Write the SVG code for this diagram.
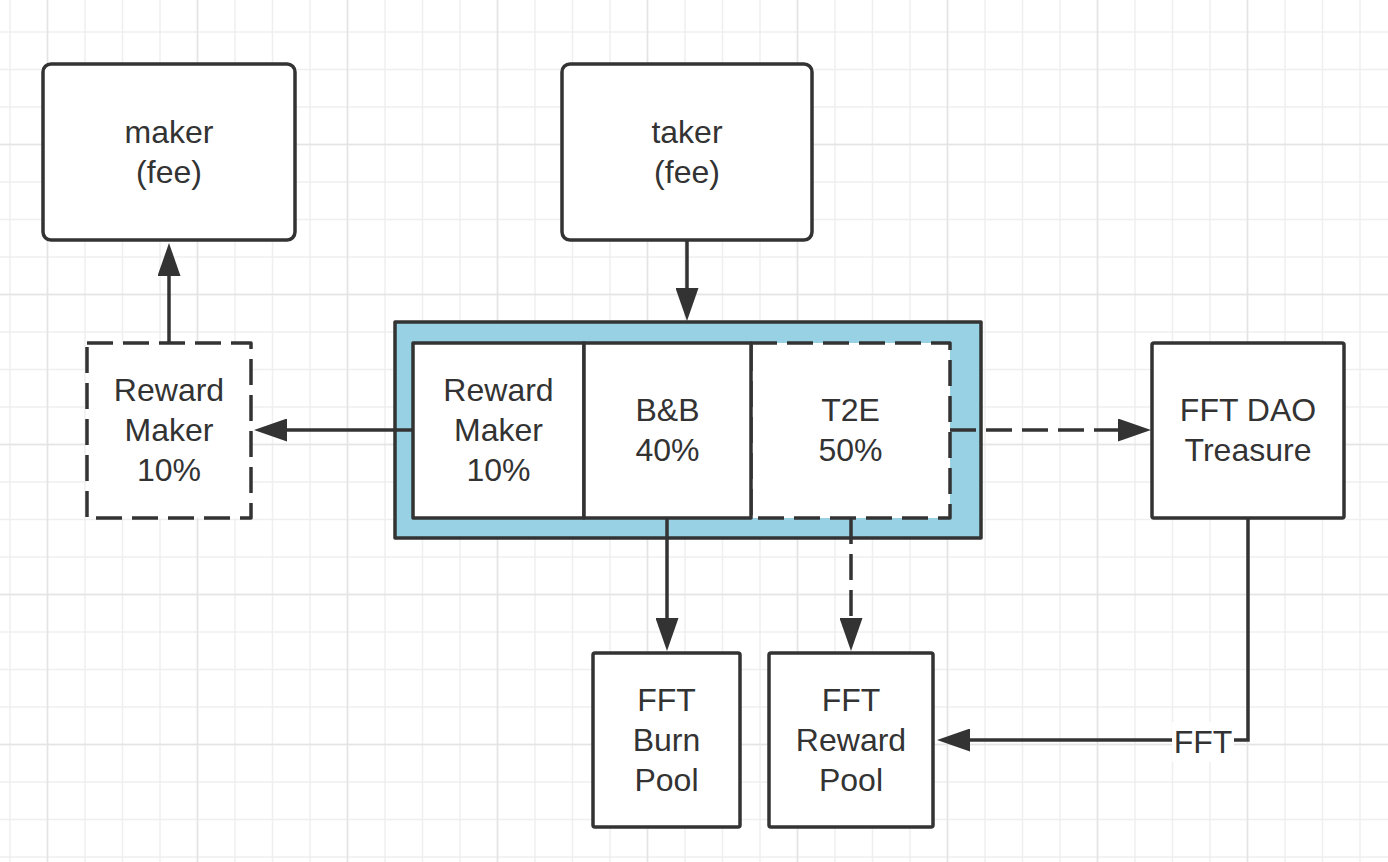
<svg xmlns="http://www.w3.org/2000/svg" width="1388" height="862" viewBox="0 0 1388 862">
<style>
.bg{fill:#ffffff}
.gmin{stroke:#efefef;stroke-width:1.5;fill:none}
.gmaj{stroke:#e4e4e4;stroke-width:1.5;fill:none}
.box{fill:#ffffff;stroke:#333333;stroke-width:3.5;stroke-linejoin:round}
.dash{stroke-dasharray:26 10}
.cont{fill:#97d1e3;stroke:#333333;stroke-width:3.5;stroke-linejoin:round}
.ln{fill:none;stroke:#333333;stroke-width:3.5}
.t{font-family:"Liberation Sans",Arial,Helvetica,sans-serif;font-size:32px;fill:#333333;text-anchor:middle}
</style>
<defs>
<marker id="arr" viewBox="0 0 33 23" refX="0" refY="11.5" markerWidth="33" markerHeight="23" markerUnits="userSpaceOnUse" orient="auto">
<path d="M0,0 L33,11.5 L0,23 Z" fill="#333333" stroke="none"/>
</marker>
</defs>
<rect class="bg" x="0" y="0" width="1388" height="862"/>
<g id="grid">
<path class="gmin" d="M10,0V862M47.5,0V862M85,0V862M122.5,0V862M160,0V862M197.5,0V862M235,0V862M272.5,0V862M310,0V862M347.5,0V862M385,0V862M422.5,0V862M460,0V862M497.5,0V862M535,0V862M572.5,0V862M610,0V862M647.5,0V862M685,0V862M722.5,0V862M760,0V862M797.5,0V862M835,0V862M872.5,0V862M910,0V862M947.5,0V862M985,0V862M1022.5,0V862M1060,0V862M1097.5,0V862M1135,0V862M1172.5,0V862M1210,0V862M1247.5,0V862M1285,0V862M1322.5,0V862M1360,0V862M0,32H1388M0,69.5H1388M0,107H1388M0,144.5H1388M0,182H1388M0,219.5H1388M0,257H1388M0,294.5H1388M0,332H1388M0,369.5H1388M0,407H1388M0,444.5H1388M0,482H1388M0,519.5H1388M0,557H1388M0,594.5H1388M0,632H1388M0,669.5H1388M0,707H1388M0,744.5H1388M0,782H1388M0,819.5H1388M0,857H1388"/>
<path class="gmaj" d="M47.5,0V862M197.5,0V862M347.5,0V862M497.5,0V862M647.5,0V862M797.5,0V862M947.5,0V862M1097.5,0V862M1247.5,0V862M0,144.5H1388M0,294.5H1388M0,444.5H1388M0,594.5H1388M0,744.5H1388"/>
</g>
<g id="node-maker">
<rect class="box" x="43" y="64" width="252" height="176" rx="8"/>
<text class="t" x="169" y="143">maker</text>
<text class="t" x="169" y="183">(fee)</text>
</g>
<g id="node-taker">
<rect class="box" x="562" y="64" width="250" height="176" rx="8"/>
<text class="t" x="687" y="143">taker</text>
<text class="t" x="687" y="183">(fee)</text>
</g>
<g id="node-reward-maker-out">
<rect class="box dash" x="87" y="343" width="164" height="175"/>
<text class="t" x="169" y="401">Reward</text>
<text class="t" x="169" y="441">Maker</text>
<text class="t" x="169" y="481">10%</text>
</g>
<g id="node-fee-split">
<rect class="cont" x="395" y="322" width="586" height="216"/>
</g>
<g id="node-cell-reward-maker">
<rect class="box" x="413" y="343" width="171" height="175"/>
<text class="t" x="498.5" y="401">Reward</text>
<text class="t" x="498.5" y="441">Maker</text>
<text class="t" x="498.5" y="481">10%</text>
</g>
<g id="node-cell-t2e">
<rect class="box dash" x="751" y="343" width="199" height="175"/>
<text class="t" x="850.5" y="421">T2E</text>
<text class="t" x="850.5" y="461">50%</text>
</g>
<g id="node-cell-bb">
<rect class="box" x="584" y="343" width="167" height="175"/>
<text class="t" x="667.5" y="421">B&amp;B</text>
<text class="t" x="667.5" y="461">40%</text>
</g>
<g id="node-dao">
<rect class="box" x="1152" y="343" width="192" height="175" rx="2"/>
<text class="t" x="1248" y="421">FFT DAO</text>
<text class="t" x="1248" y="461">Treasure</text>
</g>
<g id="node-burn">
<rect class="box" x="593" y="653" width="147" height="174" rx="2"/>
<text class="t" x="666.5" y="711">FFT</text>
<text class="t" x="666.5" y="751">Burn</text>
<text class="t" x="666.5" y="791">Pool</text>
</g>
<g id="node-reward-pool">
<rect class="box" x="769" y="653" width="164" height="174" rx="2"/>
<text class="t" x="851" y="711">FFT</text>
<text class="t" x="851" y="751">Reward</text>
<text class="t" x="851" y="791">Pool</text>
</g>
<g id="connectors">
<path class="ln" d="M169,343 V276" marker-end="url(#arr)"/>
<path class="ln" d="M413,430 H287" marker-end="url(#arr)"/>
<path class="ln" d="M687,240 V288" marker-end="url(#arr)"/>
<path class="ln" d="M667,518 V618" marker-end="url(#arr)"/>
<path class="ln dash" d="M851,518 V618" marker-end="url(#arr)"/>
<path class="ln dash" d="M950,430 H1118" marker-end="url(#arr)"/>
<path class="ln" d="M1248,518 V740 H970" marker-end="url(#arr)"/>
<rect x="1172" y="722" width="62" height="40" fill="#ffffff"/>
<text class="t" x="1203" y="753">FFT</text>
</g>
</svg>
